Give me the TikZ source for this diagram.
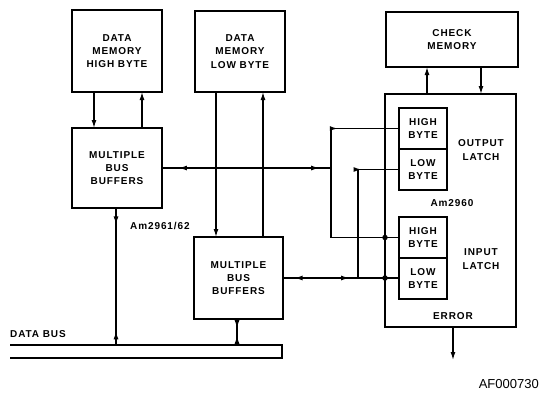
\documentclass[tikz,border=0pt]{standalone}
\usepackage{fontspec}
\setmainfont{Liberation Sans}
\newfontfamily\labf[LetterSpace=9]{Liberation Sans}
\usetikzlibrary{arrows.meta,decorations.markings}
\tikzset{
  lbl/.style={font=\labf\bfseries\fontsize{10}{13.3}\selectfont, align=center, inner sep=0pt},
  blk/.style={draw, line width=2.2pt, inner sep=0pt, outer sep=0pt, lbl},
  latchbox/.style={draw, line width=1.4pt, inner sep=0pt, outer sep=0pt, minimum width=48pt, minimum height=41pt, lbl},
  conn/.style={line width=1.3pt},
  tipend/.style={-{Latex[length=8pt,width=5pt]}},
  fwd/.style={postaction={decorate,decoration={markings,mark=at position #1 with {\arrow{Latex[length=8pt,width=5pt]}}}}},
  bwd/.style={postaction={decorate,decoration={markings,mark=at position #1 with {\arrowreversed{Latex[length=8pt,width=5pt]}}}}},
  dot/.style={circle, fill, inner sep=0pt, minimum size=5.5pt}
}
\begin{document}
\begin{tikzpicture}[x=1pt,y=-1pt]
\useasboundingbox (0,0) rectangle (540,392);
% blocks
\node[blk, minimum width=90pt, minimum height=82pt] (dmhb) at (117,51) {DATA\\MEMORY\\HIGH BYTE};
\node[blk, minimum width=90pt, minimum height=81pt] (dmlb) at (240,51.5) {DATA\\MEMORY\\LOW BYTE};
\node[blk, minimum width=90pt, minimum height=80pt] (mbb1) at (117,168) {MULTIPLE\\BUS\\BUFFERS};
\node[blk, minimum width=89pt, minimum height=82pt] (mbb2) at (238.5,278) {MULTIPLE\\BUS\\BUFFERS};
\node[blk, minimum width=132pt, minimum height=55pt] (chk) at (452,39.5) {CHECK\\MEMORY};
\node[blk, minimum width=131pt, minimum height=233pt] (am) at (450.5,210.5) {};
\node[latchbox] (ohb) at (423,128.5) {HIGH\\BYTE};
\node[latchbox] (olb) at (423,169.5) {LOW\\BYTE};
\node[latchbox] (ihb) at (423,237.5) {HIGH\\BYTE};
\node[latchbox] (ilb) at (423,278.5) {LOW\\BYTE};
\node[lbl] (olatch) at (481,150) {OUTPUT\\LATCH};
\node[lbl] (amlbl) at (452,203) {Am2960};
\node[lbl] (ilatch) at (481,259) {INPUT\\LATCH};
\node[lbl] (err) at (453,316) {ERROR};
\node[lbl, anchor=west] (am61) at (130,226) {Am2961/62};
\node[lbl, anchor=south west] (dbus) at (10,338) {DATA BUS};
\node[font=\fontsize{13}{15}\selectfont, anchor=base east, inner sep=0pt] (af) at (539,388.5) {AF000730};
% data bus
\coordinate (busL1) at (10,345);
\coordinate (busR1) at (282,345);
\coordinate (busR2) at (282,358);
\coordinate (busL2) at (10,358);
\draw[line width=1.4pt] (busL1) -- (busR1) -- (busR2) -- (busL2);
\coordinate (b1) at (116,345);
\coordinate (b2) at (237,345);
\coordinate (errend) at (453,360);
% connectors
\draw[conn, tipend] (94,0 |- dmhb.south) -- (94,0 |- mbb1.north);
\draw[conn, tipend] (142,0 |- mbb1.north) -- (142,0 |- dmhb.south);
\draw[conn, fwd=0.12, bwd=0.9] (b1 |- mbb1.south) -- (b1);
\draw[conn, fwd=0.35, bwd=0.65] (b2 |- mbb2.south) -- (b2);
\draw[conn, tipend] (216,0 |- dmlb.south) -- (216,0 |- mbb2.north);
\draw[conn, tipend] (263,0 |- mbb2.north) -- (263,0 |- dmlb.south);
\draw[conn, tipend] (427,0 |- am.north) -- (427,0 |- chk.south);
\draw[conn, tipend] (481,0 |- chk.south) -- (481,0 |- am.north);
\draw[conn, tipend] (453,0 |- am.south) -- (errend);
% MBB1 bus to output high / input high
\draw[conn, bwd=0.1, fwd=0.93] (mbb1.east) -- (331,0 |- mbb1.east);
\draw[conn, bwd=0.25] (ohb.west) -- (331,0 |- ohb.west) -- (331,0 |- ihb.west) -- (ihb.west);
% output low to input low
\draw[conn, bwd=0.25] (olb.west) -- (358,0 |- olb.west) -- (358,0 |- ilb.west);
\draw[conn, bwd=0.1, fwd=0.57] (mbb2.east) -- (ilb.west |- mbb2.east);
\node[dot] (j1) at (385,237.5) {};
\node[dot] (j2) at (385,278) {};
\end{tikzpicture}
\end{document}
